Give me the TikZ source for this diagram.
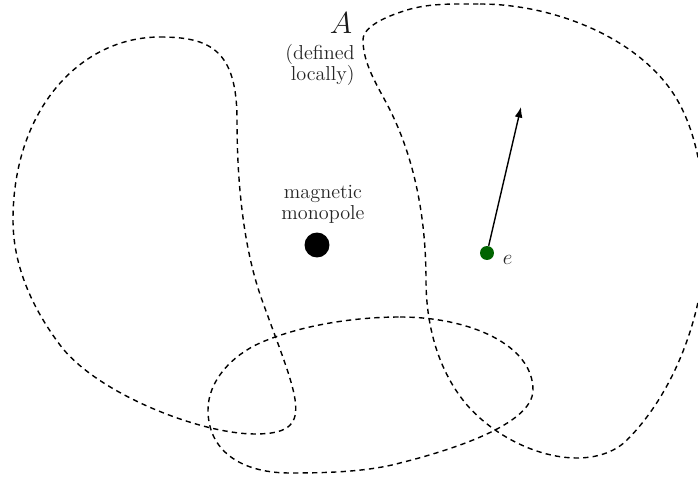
\documentclass[tikz,border=0pt]{standalone}
\usepackage{xcolor}
\usepackage{tikz}
\usetikzlibrary{arrows.meta,positioning}

\definecolor{charge}{RGB}{0,100,0}

\begin{document}
\begin{tikzpicture}[x=0.02cm, y=-0.02cm,
  region/.style={line width=0.8pt, dash pattern=on 3pt off 2.4pt},
  lbl/.style={text=black!85, align=center, inner sep=1pt,
    font=\fontsize{11.5}{12}\selectfont},
  arr/.style={-{Latex[length=6pt, width=4.5pt]}, line width=0.8pt},
]
  \useasboundingbox (0,0) rectangle (698,480);
  \clip (0,0) rectangle (698,480);

  % patches
  \draw[region] (160,37) .. controls (210,37) and (237,50) .. (237,120)
    .. controls (237,190) and (245,253) .. (262,300)
    .. controls (298,400) and (318,434) .. (255,434)
    .. controls (200,434) and (96,393) .. (60,345)
    .. controls (36,313) and (13,270) .. (13,220)
    .. controls (13,110) and (80,37) .. (160,37);
  \draw[region] (480,4) .. controls (550,4) and (634,35) .. (673,93)
    .. controls (700,134) and (705,190) .. (705,240)
    .. controls (705,310) and (676,391) .. (627,440)
    .. controls (614,453) and (595,458) .. (577,458)
    .. controls (537,458) and (493,435) .. (467,405)
    .. controls (438,371) and (426,325) .. (426,280)
    .. controls (426,222) and (416,162) .. (390,110)
    .. controls (379,88) and (363,65) .. (363,40)
    .. controls (363,25) and (391,15) .. (407,10)
    .. controls (430,3) and (455,4) .. (480,4);
  \draw[region] (400,317) .. controls (470,317) and (533,345) .. (533,390)
    .. controls (533,425) and (448,451) .. (400,463)
    .. controls (367,472) and (325,473) .. (290,473)
    .. controls (240,473) and (208,450) .. (208,410)
    .. controls (208,380) and (233,355) .. (260,343)
    .. controls (301,325) and (355,317) .. (400,317);

  % labels
  \node[lbl, font=\fontsize{18}{20}\selectfont, text=black!90] (A) at (341,23) {$A$};
  \node[lbl, align=right] (def) at (320,65) {(defined\\ locally)};

  \node[circle, fill=black, minimum size=0.5cm, inner sep=0pt] (mono) at (317,245) {};
  \node[lbl] (monolbl) at (323,204) {magnetic\\monopole};

  \node[circle, fill=charge, minimum size=0.28cm, inner sep=0pt] (e) at (487,253) {};
  \node[lbl, right=0.13cm of e, yshift=-4pt] (elbl) {$e$};
  \coordinate (tip) at (521,107);
  \draw[arr] (e) -- (tip);
\end{tikzpicture}
\end{document}
